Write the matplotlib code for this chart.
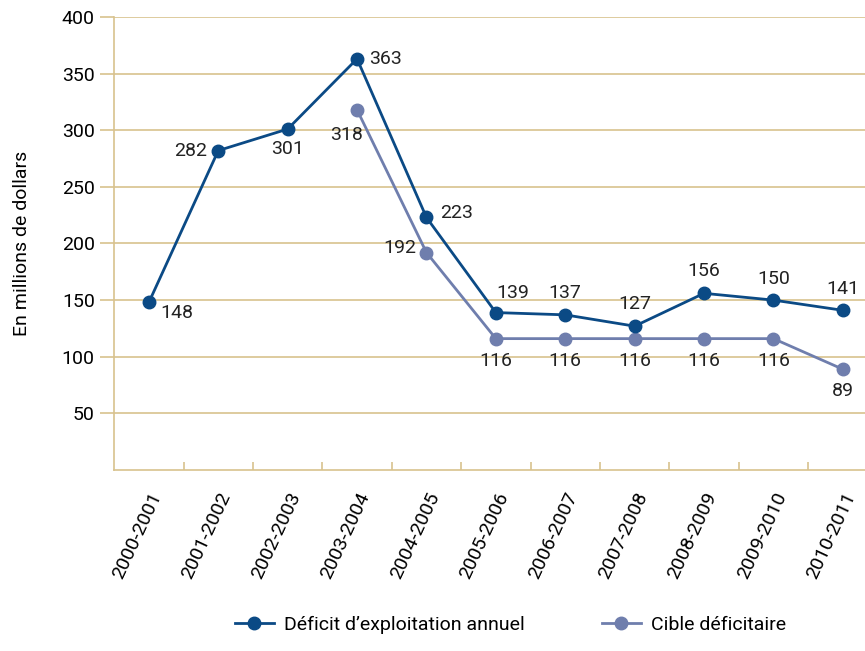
import matplotlib.pyplot as plt
import numpy as np

plt.rcParams['font.family'] = ['Roboto', 'DejaVu Sans']

years = ['2000-2001', '2001-2002', '2002-2003', '2003-2004', '2004-2005', '2005-2006',
         '2006-2007', '2007-2008', '2008-2009', '2009-2010', '2010-2011']
deficit = [148, 282, 301, 363, 223, 139, 137, 127, 156, 150, 141]
cible = [None, None, None, 318, 192, 116, 116, 116, 116, 116, 89]

dark = '#0b4a85'
light = '#6f7ead'
tan = '#d8c28e'

fig = plt.figure(figsize=(8.65, 6.51), dpi=100)
ax = fig.add_axes([0.132, 0.278, 0.868, 0.696])

x = np.arange(len(years))
cx = [i for i, v in zip(x, cible) if v is not None]
cy = [v for v in cible if v is not None]

ax.plot(x, deficit, color=dark, lw=2, marker='o', ms=9, zorder=4, label='Déficit d\u2019exploitation annuel')
ax.plot(cx, cy, color=light, lw=2, marker='o', ms=9, zorder=3, label='Cible déficitaire')

# label offsets in points
dark_off = [(8, -8), (-8, 0), (0, -14), (9, 0), (10, 3), (12, 14), (0, 16), (0, 16),
            (0, 16), (0, 15), (0, 15)]
dark_ha = ['left', 'right', 'center', 'left', 'left', 'center', 'center', 'center',
           'center', 'center', 'center']
for i, v in enumerate(deficit):
    dx, dy = dark_off[i]
    ax.annotate(str(v), (x[i], v), xytext=(dx, dy), textcoords='offset points',
                ha=dark_ha[i], va='center', fontsize=14, color='#222222')

light_off = {3: (4, -18), 4: (-7, 3)}
for i, v in zip(cx, cy):
    dx, dy = light_off.get(i, (0, -16))
    ha = 'right' if i in light_off else 'center'
    ax.annotate(str(v), (i, v), xytext=(dx, dy), textcoords='offset points',
                ha=ha, va='center', fontsize=14, color='#222222')

ax.set_xlim(-0.5, 10.32)
ax.set_ylim(0, 400)
ax.set_yticks(range(50, 401, 50))
ax.yaxis.grid(True, color=tan, lw=1.2)
ax.set_axisbelow(True)

ax.set_xticks(x)
ax.set_xticklabels(years, rotation=65, ha='right', rotation_mode='anchor', fontsize=14)
ax.tick_params(axis='x', length=0, pad=14)
ax.set_xticks(np.arange(0.5, 10, 1), minor=True)
ax.tick_params(axis='x', which='minor', direction='in', length=6, color=tan, width=1.2)
ax.tick_params(axis='y', length=10, color=tan, width=1.2, labelsize=14, pad=4)

for s in ['top', 'right']:
    ax.spines[s].set_visible(False)
ax.spines['left'].set_color(tan)
ax.spines['bottom'].set_color(tan)
ax.spines['left'].set_linewidth(1.2)
ax.spines['bottom'].set_linewidth(1.2)

ax.set_ylabel('En millions de dollars', fontsize=14, labelpad=22)

fig.legend(loc='lower center', bbox_to_anchor=(0.59, 0.0), ncol=2, frameon=False,
           fontsize=14, handlelength=2, handletextpad=0.5, columnspacing=4)

fig.savefig('out.png', dpi=100)
